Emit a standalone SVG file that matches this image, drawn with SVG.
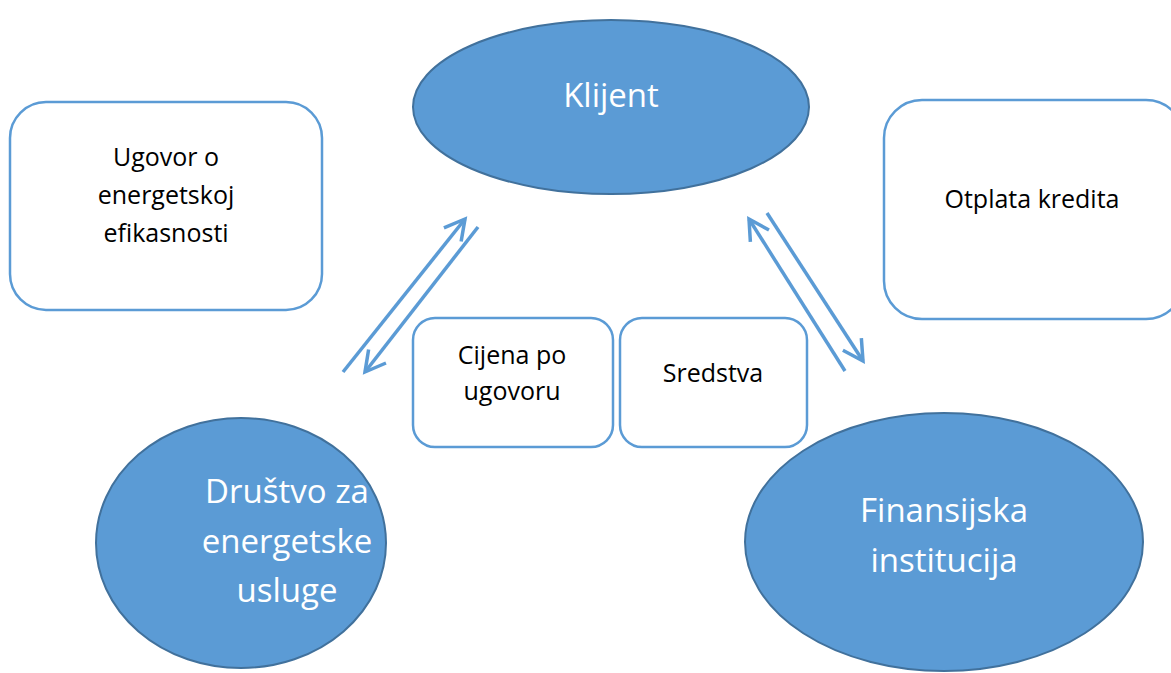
<svg xmlns="http://www.w3.org/2000/svg" width="1171" height="673" viewBox="0 0 1171 673">
  <style>
    .party { fill: #5B9BD5; stroke: #41719C; stroke-width: 2; }
    .note { fill: #FFFFFF; stroke: #5B9BD5; stroke-width: 2.5; }
    .light { font-family: "Open Sans", "Liberation Sans", sans-serif; fill: #FFFFFF; text-anchor: middle; }
    .dark { font-family: "Open Sans", "Liberation Sans", sans-serif; fill: #000000; text-anchor: middle; font-size: 25px; }
    .flow { stroke: #5B9BD5; stroke-width: 3.5; fill: none; marker-end: url(#chevron); }
  </style>
  <defs>
    <marker id="chevron" markerUnits="userSpaceOnUse" markerWidth="40" markerHeight="40" viewBox="-30 -20 40 40" refX="0" refY="0" orient="auto">
      <path d="M -20 -11 L 0 0 L -20 11" fill="none" stroke="#5B9BD5" stroke-width="3.5" stroke-linejoin="miter"/>
    </marker>
  </defs>
  <rect width="1171" height="673" fill="#FFFFFF"/>

  <g id="klijent">
    <ellipse class="party" cx="611" cy="107" rx="198" ry="87"/>
    <text class="light" x="611" y="107" font-size="33">Klijent</text>
  </g>

  <g id="drustvo">
    <ellipse class="party" cx="241" cy="543" rx="145" ry="125"/>
    <text class="light" x="287" y="503" font-size="33">Društvo za</text>
    <text class="light" x="287" y="553" font-size="33">energetske</text>
    <text class="light" x="287" y="602" font-size="33">usluge</text>
  </g>

  <g id="finansijska">
    <ellipse class="party" cx="944" cy="542" rx="199" ry="129"/>
    <text class="light" x="944" y="522" font-size="33">Finansijska</text>
    <text class="light" x="944" y="572" font-size="33">institucija</text>
  </g>

  <g id="ugovor">
    <rect class="note" x="10" y="102" width="312" height="208" rx="36"/>
    <text class="dark" x="166" y="166">Ugovor o</text>
    <text class="dark" x="166" y="204">energetskoj</text>
    <text class="dark" x="166" y="242">efikasnosti</text>
  </g>

  <g id="otplata">
    <rect class="note" x="884" y="100" width="300" height="219" rx="38"/>
    <text class="dark" x="1032" y="208">Otplata kredita</text>
  </g>

  <g id="cijena">
    <rect class="note" x="413" y="318" width="200" height="129" rx="22"/>
    <text class="dark" x="512" y="364">Cijena po</text>
    <text class="dark" x="512" y="400">ugovoru</text>
  </g>

  <g id="sredstva">
    <rect class="note" x="620" y="318" width="187" height="129" rx="22"/>
    <text class="dark" x="713" y="382">Sredstva</text>
  </g>

  <g id="connectors">
    <line class="flow" x1="343" y1="372" x2="465" y2="219"/>
    <line class="flow" x1="478" y1="227" x2="365" y2="372"/>
    <line class="flow" x1="845" y1="371" x2="749" y2="219"/>
    <line class="flow" x1="767" y1="213" x2="863" y2="361"/>
  </g>
</svg>
